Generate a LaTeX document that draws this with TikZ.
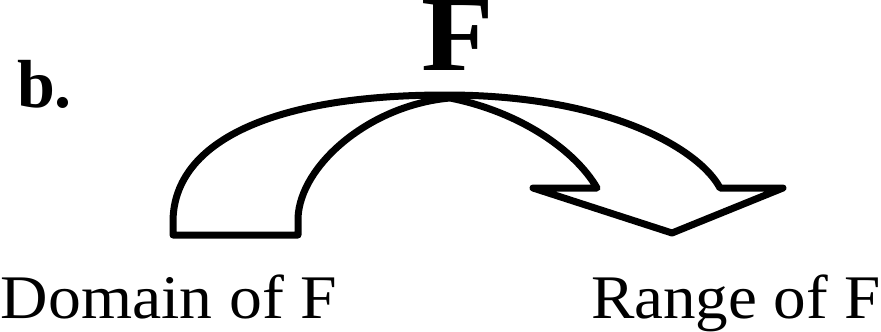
\documentclass[tikz,border=0pt]{standalone}
\usepackage{fontspec}
\setmainfont{Liberation Serif}
\begin{document}
\begin{tikzpicture}[x=1pt,y=-1pt,
  lbl/.style={anchor=base west,inner sep=0pt,outer sep=0pt},
  bigarrow/.style={line width=7pt,line join=round,line cap=round}]
\useasboundingbox (0,0) rectangle (881,332);
\node[lbl,font=\fontsize{68}{70}\selectfont\bfseries] (b) at (17,107) {b.};
\node[lbl,text height=64pt,font=\fontsize{108}{110}\selectfont\bfseries] (F) at (421,70) {\scalebox{1.1}[1]{F}};
\node[lbl,font=\fontsize{62}{64}\selectfont] (dom) at (1,318) {\scalebox{1.06}[1]{Domain of F}};
\node[lbl,font=\fontsize{62}{64}\selectfont] (ran) at (591,318) {\scalebox{1.05}[1]{Range of F}};
\draw[bigarrow] (173,235) -- (173,222)
  .. controls (173,145) and (265,95) .. (446,95)
  .. controls (610,95) and (700,150) .. (720,188)
  -- (783,188) -- (672,233) -- (533,188) -- (597,188)
  .. controls (575,150) and (520,112) .. (450,98)
  .. controls (370,105) and (300,165) .. (298,218)
  -- (298,235) -- cycle;
\end{tikzpicture}
\end{document}
